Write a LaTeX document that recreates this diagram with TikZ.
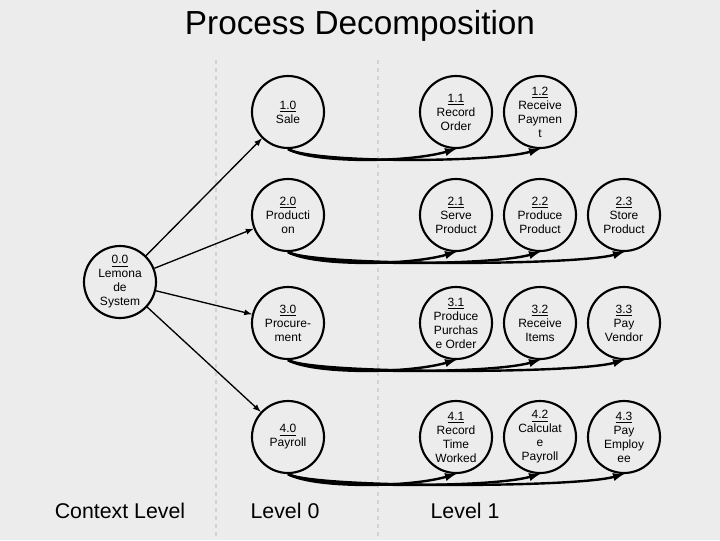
\documentclass[tikz,border=0pt]{standalone}
\usepackage{fontspec}
\setmainfont{Liberation Sans}
\begin{document}
\begin{tikzpicture}[x=0.75pt,y=-0.75pt,
  proc/.style={circle,draw,line width=1.6pt,minimum size=54pt,inner sep=0pt,align=center,font=\fontsize{9}{10.5}\selectfont},
  lnk/.style={-latex,line width=1pt},
  flow/.style={-latex,line width=1.8pt},
  sep/.style={dashed,line width=1.5pt,draw=gray!35}]
\useasboundingbox (0,0) rectangle (720,540);
\fill[gray!15] (0,0) rectangle (720,540);
\draw[sep] (216,60) -- (216,540);
\draw[sep] (378,60) -- (378,540);
\node (title) at (360,26) {\fontsize{25}{28}\selectfont Process Decomposition};
\node (c0) at (120,511) {\fontsize{16}{18}\selectfont Context Level};
\node (c1) at (285,511) {\fontsize{16}{18}\selectfont Level 0};
\node (c2) at (465,511) {\fontsize{16}{18}\selectfont Level 1};
\node[proc] (n0) at (120,282) {\underline{0.0}\\Lemona\\de\\System};
\node[proc] (n1) at (288,112) {\underline{1.0}\\Sale};
\node[proc] (n2) at (288,215) {\underline{2.0}\\Producti\\on};
\node[proc] (n3) at (288,323) {\underline{3.0}\\Procure-\\ment};
\node[proc] (n4) at (288,437) {\underline{4.0}\\Payroll};
\node[proc] (n11) at (456,112) {\underline{1.1}\\Record\\Order};
\node[proc] (n12) at (540,112) {\underline{1.2}\\Receive\\Paymen\\t};
\node[proc] (n21) at (456,215) {\underline{2.1}\\Serve\\Product};
\node[proc] (n22) at (540,215) {\underline{2.2}\\Produce\\Product};
\node[proc] (n23) at (624,215) {\underline{2.3}\\Store\\Product};
\node[proc] (n31) at (456,323) {\underline{3.1}\\Produce\\Purchas\\e Order};
\node[proc] (n32) at (540,323) {\underline{3.2}\\Receive\\Items};
\node[proc] (n33) at (624,323) {\underline{3.3}\\Pay\\Vendor};
\node[proc] (n41) at (456,437) {\underline{4.1}\\Record\\Time\\Worked};
\node[proc] (n42) at (540,437) {\underline{4.2}\\Calculat\\e\\Payroll};
\node[proc] (n43) at (624,437) {\underline{4.3}\\Pay\\Employ\\ee};
\foreach \t in {n1,n2,n3,n4} \draw[lnk] (n0) -- (\t);
\foreach \p/\c in {n1/n11,n1/n12,n2/n21,n2/n22,n2/n23,n3/n31,n3/n32,n3/n33,n4/n41,n4/n42,n4/n43}
  \draw[flow] (\p.south) .. controls +(25,14) and +(-50,14) .. (\c.south);
\end{tikzpicture}
\end{document}
